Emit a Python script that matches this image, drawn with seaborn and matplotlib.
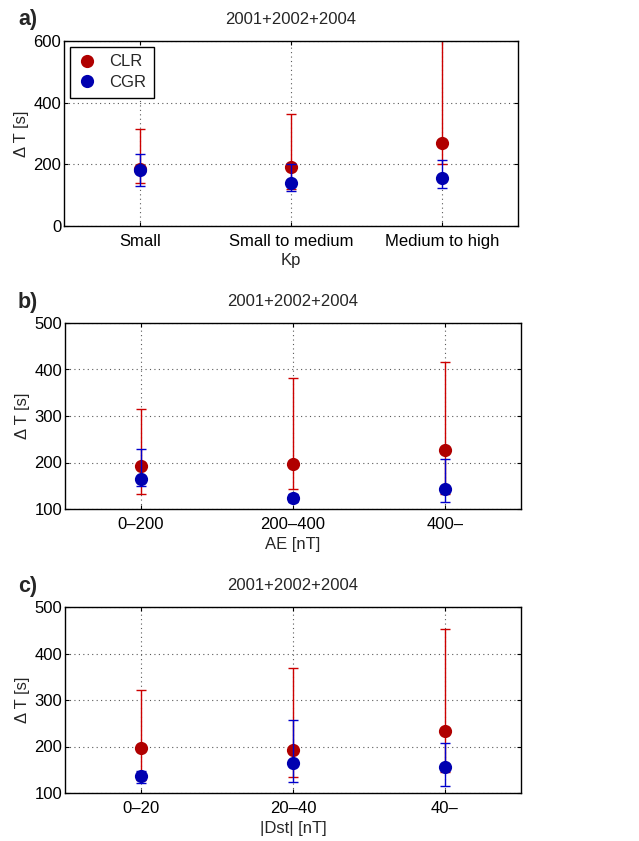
import numpy as np
import matplotlib
matplotlib.use("Agg")
import matplotlib.pyplot as plt
from matplotlib.lines import Line2D
import seaborn as sns

# ---------------- data ----------------
title = "2001+2002+2004"

cats_a = ["Small", "Small to medium", "Medium to high"]
clr_a = [185, 192, 268]
clr_a_lo = [138, 120, 200]
clr_a_hi = [316, 363, 650]
cgr_a = [181, 138, 156]
cgr_a_lo = [130, 114, 122]
cgr_a_hi = [235, 200, 215]

cats_b = ["0\u2013200", "200\u2013400", "400\u2013"]
clr_b = [193, 196, 227]
clr_b_lo = [132, 142, 133]
clr_b_hi = [316, 381, 417]
cgr_b = [165, 123, 143]
cgr_b_lo = [150, 115, 116]
cgr_b_hi = [228, 132, 208]

cats_c = ["0\u201320", "20\u201340", "40\u2013"]
clr_c = [196, 193, 234]
clr_c_lo = [128, 135, 146]
clr_c_hi = [321, 368, 452]
cgr_c = [137, 164, 156]
cgr_c_lo = [121, 124, 116]
cgr_c_hi = [148, 256, 208]

xlabels = ["Kp", "AE [nT]", "|Dst| [nT]"]
panel_labels = ["a)", "b)", "c)"]
yticks_a = [0, 200, 400, 600]
yticks_bc = [100, 200, 300, 400, 500]

RED = "#b00000"
BLUE = "#0000b0"
RED_ERR = "#cc0000"
BLUE_ERR = "#0000cc"

# ---------------- style ----------------
sns.set_style("white")
plt.rcParams["font.family"] = ["Liberation Sans", "DejaVu Sans"]
FS = 12

fig = plt.figure(figsize=(6.39, 8.41), dpi=100)
W, H = 639, 841

def axes_px(left, right, top, bottom):
    return fig.add_axes([left / W, 1 - bottom / H, (right - left) / W, (bottom - top) / H])

axs = [axes_px(64, 518, 41, 226), axes_px(65, 521, 323, 509), axes_px(65, 521, 607, 793)]

panels = [
    (cats_a, clr_a, clr_a_lo, clr_a_hi, cgr_a, cgr_a_lo, cgr_a_hi, yticks_a),
    (cats_b, clr_b, clr_b_lo, clr_b_hi, cgr_b, cgr_b_lo, cgr_b_hi, yticks_bc),
    (cats_c, clr_c, clr_c_lo, clr_c_hi, cgr_c, cgr_c_lo, cgr_c_hi, yticks_bc),
]
label_pos = [9, 292, 576]

for i, (ax, p) in enumerate(zip(axs, panels)):
    cats, clr, clr_lo, clr_hi, cgr, cgr_lo, cgr_hi, yt = p
    x = np.arange(len(cats))
    clr = np.array(clr); cgr = np.array(cgr)
    ax.errorbar(x, clr, yerr=[clr - np.array(clr_lo), np.array(clr_hi) - clr],
                fmt="none", ecolor=RED_ERR, elinewidth=1.0, capsize=3.5, capthick=1.0, zorder=2)
    sns.pointplot(x=cats, y=clr, order=cats, color=RED, linestyle="none", markers="o",
                  markersize=9.5, markeredgewidth=0, errorbar=None, ax=ax, zorder=3)
    ax.errorbar(x, cgr, yerr=[cgr - np.array(cgr_lo), np.array(cgr_hi) - cgr],
                fmt="none", ecolor=BLUE_ERR, elinewidth=1.0, capsize=3.5, capthick=1.0, zorder=4)
    sns.pointplot(x=cats, y=cgr, order=cats, color=BLUE, linestyle="none", markers="o",
                  markersize=9.5, markeredgewidth=0, errorbar=None, ax=ax, zorder=5)

    ax.set_xlim(-0.5, len(cats) - 0.5)
    ax.set_ylim(yt[0], yt[-1])
    ax.set_yticks(yt)
    ax.set_xticks(x)
    ax.set_xticklabels(cats)
    ax.grid(True, linestyle=(0, (1, 3)), color="0.35", linewidth=0.8)
    ax.set_axisbelow(True)
    for s in ax.spines.values():
        s.set_visible(True)
        s.set_color("black")
        s.set_linewidth(1.0)
    ax.tick_params(direction="in", length=3, width=0.8, bottom=True, left=True,
                   top=True, right=True, labelsize=FS, colors="black", pad=2)
    ax.tick_params(axis="x", pad=6)
    ax.set_xlabel(xlabels[i], fontsize=FS, labelpad=3)
    ax.set_ylabel("\u0394 T [s]", fontsize=FS, labelpad=3)
    ax.set_title(title, fontsize=FS, pad=12)
    fig.text(18 / W, 1 - label_pos[i] / H, panel_labels[i], fontsize=15.5, fontweight="bold",
             va="top", ha="left")

handles = [Line2D([], [], linestyle="none", marker="o", markersize=9.5, color=RED, markeredgewidth=0),
           Line2D([], [], linestyle="none", marker="o", markersize=9.5, color=BLUE, markeredgewidth=0)]
leg = axs[0].legend(handles, ["CLR", "CGR"], loc="upper left", fontsize=FS, frameon=True,
                    fancybox=False, framealpha=1, edgecolor="black", borderaxespad=0.35,
                    handlelength=1.2, handletextpad=0.7, labelspacing=0.35, borderpad=0.45)
leg.get_frame().set_linewidth(1.0)

fig.savefig("out.png", dpi=100)
